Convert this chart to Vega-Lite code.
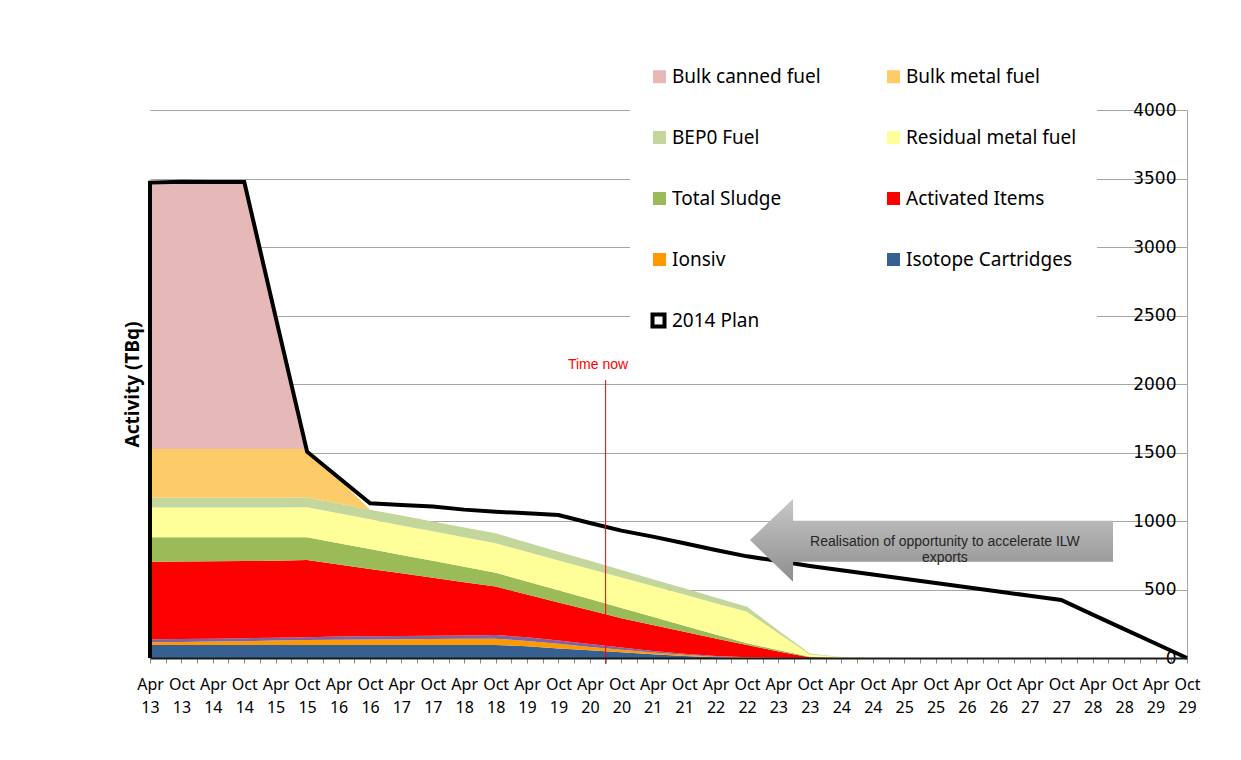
{
  "$schema": "https://vega.github.io/schema/vega-lite/v6.json",
  "width": 1037,
  "height": 548,
  "autosize": {"type": "none"},
  "padding": {"left": 150, "top": 110, "right": 54, "bottom": 102},
  "background": "#ffffff",
  "config": {"view": {"stroke": null}, "font": "Noto Sans"},
  "datasets": {
    "stack": [
      {"date": "2013-04-01", "Isotope Cartridges": 95, "Ionsiv": 20, "Other": 21, "Activated Items": 567, "Total Sludge": 178, "Residual metal fuel": 217, "BEP0 Fuel": 72, "Bulk metal fuel": 355, "Bulk canned fuel": 1952},
      {"date": "2013-10-01", "Isotope Cartridges": 95, "Ionsiv": 22, "Other": 21, "Activated Items": 567, "Total Sludge": 176, "Residual metal fuel": 217, "BEP0 Fuel": 72, "Bulk metal fuel": 355, "Bulk canned fuel": 1952},
      {"date": "2014-04-01", "Isotope Cartridges": 95, "Ionsiv": 25, "Other": 21, "Activated Items": 566, "Total Sludge": 174, "Residual metal fuel": 217, "BEP0 Fuel": 72, "Bulk metal fuel": 355, "Bulk canned fuel": 1952},
      {"date": "2014-10-01", "Isotope Cartridges": 95, "Ionsiv": 28, "Other": 21, "Activated Items": 564, "Total Sludge": 173, "Residual metal fuel": 217, "BEP0 Fuel": 72, "Bulk metal fuel": 355, "Bulk canned fuel": 1952},
      {"date": "2015-04-01", "Isotope Cartridges": 95, "Ionsiv": 32, "Other": 21, "Activated Items": 562, "Total Sludge": 171, "Residual metal fuel": 217, "BEP0 Fuel": 72, "Bulk metal fuel": 355, "Bulk canned fuel": 976},
      {"date": "2015-10-01", "Isotope Cartridges": 95, "Ionsiv": 36, "Other": 21, "Activated Items": 563, "Total Sludge": 166, "Residual metal fuel": 219, "BEP0 Fuel": 72, "Bulk metal fuel": 353, "Bulk canned fuel": 0},
      {"date": "2016-04-01", "Isotope Cartridges": 95, "Ionsiv": 38, "Other": 24, "Activated Items": 526, "Total Sludge": 155, "Residual metal fuel": 218, "BEP0 Fuel": 71, "Bulk metal fuel": 182, "Bulk canned fuel": 0},
      {"date": "2016-10-01", "Isotope Cartridges": 95, "Ionsiv": 40, "Other": 24, "Activated Items": 491, "Total Sludge": 145, "Residual metal fuel": 217, "BEP0 Fuel": 71, "Bulk metal fuel": 0, "Bulk canned fuel": 0},
      {"date": "2017-04-01", "Isotope Cartridges": 95, "Ionsiv": 42, "Other": 24, "Activated Items": 457, "Total Sludge": 134, "Residual metal fuel": 216, "BEP0 Fuel": 72, "Bulk metal fuel": 0, "Bulk canned fuel": 0},
      {"date": "2017-10-01", "Isotope Cartridges": 95, "Ionsiv": 44, "Other": 24, "Activated Items": 423, "Total Sludge": 123, "Residual metal fuel": 216, "BEP0 Fuel": 72, "Bulk metal fuel": 0, "Bulk canned fuel": 0},
      {"date": "2018-04-01", "Isotope Cartridges": 95, "Ionsiv": 45, "Other": 24, "Activated Items": 389, "Total Sludge": 113, "Residual metal fuel": 215, "BEP0 Fuel": 72, "Bulk metal fuel": 0, "Bulk canned fuel": 0},
      {"date": "2018-10-01", "Isotope Cartridges": 95, "Ionsiv": 46, "Other": 27, "Activated Items": 353, "Total Sludge": 102, "Residual metal fuel": 214, "BEP0 Fuel": 73, "Bulk metal fuel": 0, "Bulk canned fuel": 0},
      {"date": "2019-04-01", "Isotope Cartridges": 85, "Ionsiv": 40, "Other": 26, "Activated Items": 312, "Total Sludge": 95, "Residual metal fuel": 217, "BEP0 Fuel": 68, "Bulk metal fuel": 0, "Bulk canned fuel": 0},
      {"date": "2019-10-01", "Isotope Cartridges": 70, "Ionsiv": 34, "Other": 24, "Activated Items": 277, "Total Sludge": 89, "Residual metal fuel": 218, "BEP0 Fuel": 64, "Bulk metal fuel": 0, "Bulk canned fuel": 0},
      {"date": "2020-04-01", "Isotope Cartridges": 56, "Ionsiv": 25, "Other": 21, "Activated Items": 246, "Total Sludge": 82, "Residual metal fuel": 220, "BEP0 Fuel": 59, "Bulk metal fuel": 0, "Bulk canned fuel": 0},
      {"date": "2020-10-01", "Isotope Cartridges": 42, "Ionsiv": 18, "Other": 17, "Activated Items": 213, "Total Sludge": 75, "Residual metal fuel": 222, "BEP0 Fuel": 55, "Bulk metal fuel": 0, "Bulk canned fuel": 0},
      {"date": "2021-04-01", "Isotope Cartridges": 28, "Ionsiv": 12, "Other": 12, "Activated Items": 189, "Total Sludge": 60, "Residual metal fuel": 224, "BEP0 Fuel": 50, "Bulk metal fuel": 0, "Bulk canned fuel": 0},
      {"date": "2021-10-01", "Isotope Cartridges": 15, "Ionsiv": 8, "Other": 8, "Activated Items": 161, "Total Sludge": 44, "Residual metal fuel": 227, "BEP0 Fuel": 46, "Bulk metal fuel": 0, "Bulk canned fuel": 0},
      {"date": "2022-04-01", "Isotope Cartridges": 5, "Ionsiv": 5, "Other": 5, "Activated Items": 128, "Total Sludge": 29, "Residual metal fuel": 228, "BEP0 Fuel": 42, "Bulk metal fuel": 0, "Bulk canned fuel": 0},
      {"date": "2022-10-01", "Isotope Cartridges": 0, "Ionsiv": 3, "Other": 3, "Activated Items": 89, "Total Sludge": 12, "Residual metal fuel": 231, "BEP0 Fuel": 37, "Bulk metal fuel": 0, "Bulk canned fuel": 0},
      {"date": "2023-04-01", "Isotope Cartridges": 0, "Ionsiv": 1, "Other": 1, "Activated Items": 46, "Total Sludge": 10, "Residual metal fuel": 122, "BEP0 Fuel": 20, "Bulk metal fuel": 0, "Bulk canned fuel": 0},
      {"date": "2023-10-01", "Isotope Cartridges": 0, "Ionsiv": 0, "Other": 0, "Activated Items": 5, "Total Sludge": 5, "Residual metal fuel": 15, "BEP0 Fuel": 7, "Bulk metal fuel": 0, "Bulk canned fuel": 0},
      {"date": "2024-04-01", "Isotope Cartridges": 0, "Ionsiv": 0, "Other": 0, "Activated Items": 0, "Total Sludge": 2, "Residual metal fuel": 3, "BEP0 Fuel": 2, "Bulk metal fuel": 0, "Bulk canned fuel": 0},
      {"date": "2024-10-01", "Isotope Cartridges": 0, "Ionsiv": 0, "Other": 0, "Activated Items": 0, "Total Sludge": 0, "Residual metal fuel": 0, "BEP0 Fuel": 0, "Bulk metal fuel": 0, "Bulk canned fuel": 0}
    ],
    "plan": [
      {"date": "2013-04-01", "2014 Plan": 0},
      {"date": "2013-04-01", "2014 Plan": 3470},
      {"date": "2013-10-01", "2014 Plan": 3477},
      {"date": "2014-04-01", "2014 Plan": 3474},
      {"date": "2014-10-01", "2014 Plan": 3474},
      {"date": "2015-04-01", "2014 Plan": 2490},
      {"date": "2015-10-01", "2014 Plan": 1506},
      {"date": "2016-04-01", "2014 Plan": 1318},
      {"date": "2016-10-01", "2014 Plan": 1129},
      {"date": "2017-04-01", "2014 Plan": 1117},
      {"date": "2017-10-01", "2014 Plan": 1105},
      {"date": "2018-04-01", "2014 Plan": 1083},
      {"date": "2018-10-01", "2014 Plan": 1068},
      {"date": "2019-04-01", "2014 Plan": 1056},
      {"date": "2019-10-01", "2014 Plan": 1044},
      {"date": "2020-04-01", "2014 Plan": 985},
      {"date": "2020-10-01", "2014 Plan": 930},
      {"date": "2021-04-01", "2014 Plan": 886},
      {"date": "2021-10-01", "2014 Plan": 838},
      {"date": "2022-04-01", "2014 Plan": 788},
      {"date": "2022-10-01", "2014 Plan": 742},
      {"date": "2023-04-01", "2014 Plan": 708},
      {"date": "2023-10-01", "2014 Plan": 672},
      {"date": "2024-04-01", "2014 Plan": 641},
      {"date": "2024-10-01", "2014 Plan": 610},
      {"date": "2025-04-01", "2014 Plan": 579},
      {"date": "2025-10-01", "2014 Plan": 548},
      {"date": "2026-04-01", "2014 Plan": 517},
      {"date": "2026-10-01", "2014 Plan": 486},
      {"date": "2027-04-01", "2014 Plan": 454},
      {"date": "2027-10-01", "2014 Plan": 423},
      {"date": "2028-04-01", "2014 Plan": 317},
      {"date": "2028-10-01", "2014 Plan": 211},
      {"date": "2029-04-01", "2014 Plan": 106},
      {"date": "2029-10-01", "2014 Plan": 0}
    ],
    "arrow": [
      {"date": "2022-10-18", "lo": 861, "hi": 861},
      {"date": "2023-06-25", "lo": 557, "hi": 1161},
      {"date": "2023-06-26", "lo": 703, "hi": 1002},
      {"date": "2028-07-28", "lo": 703, "hi": 1002}
    ],
    "notes": [
      {"date": "2025-11-24", "value": 847, "label": "Realisation of opportunity to accelerate ILW\nexports"}
    ],
    "timenow": [
      {"date": "2020-07-01", "value": 2030, "value2": -44, "label": "Time now", "labelDate": "2020-05-18", "labelValue": 2139}
    ]
  },
  "encoding": {
    "x": {
      "field": "date",
      "type": "temporal",
      "scale": {
        "type": "utc",
        "domain": [{"year": 2013, "month": 4, "date": 1, "utc": true}, {"year": 2029, "month": 10, "date": 1, "utc": true}],
        "nice": false
      },
      "axis": {
        "title": null,
        "grid": false,
        "tickCount": {"interval": "month", "step": 3},
        "labelExpr": "(utcmonth(datum.value) == 3 || utcmonth(datum.value) == 9) ? [utcFormat(datum.value, '%b'), utcFormat(datum.value, '%y')] : ''",
        "labelOverlap": false,
        "labelFlush": false,
        "labelBound": false,
        "labelAngle": 0,
        "labelFont": "Noto Sans",
        "labelFontSize": 16,
        "labelColor": "#000000",
        "labelLineHeight": 23,
        "labelPadding": 13,
        "labelBaseline": "top",
        "tickColor": "#8c8c8c",
        "tickSize": 5,
        "tickWidth": 1,
        "domainColor": "#1a1a1a",
        "domainWidth": 2,
        "zindex": 1
      }
    }
  },
  "layer": [
    {
      "data": {"name": "stack"},
      "transform": [
        {"fold": ["Isotope Cartridges", "Ionsiv", "Other", "Activated Items", "Total Sludge", "Residual metal fuel", "BEP0 Fuel", "Bulk metal fuel", "Bulk canned fuel"], "as": ["series", "value"]},
        {"window": [{"op": "row_number", "as": "rank"}], "groupby": ["date"]}
      ],
      "mark": {"type": "area", "interpolate": "linear", "opacity": 1},
      "encoding": {
        "y": {
          "field": "value",
          "type": "quantitative",
          "stack": "zero",
          "scale": {"domain": [0, 4000], "nice": false},
          "axis": {
            "orient": "right",
            "title": null,
            "format": "d",
            "values": [0, 500, 1000, 1500, 2000, 2500, 3000, 3500, 4000],
            "grid": true,
            "gridColor": "#a6a6a6",
            "gridWidth": 1,
            "ticks": false,
            "domain": true,
            "domainColor": "#a6a6a6",
            "domainWidth": 1,
            "labelAlign": "right",
            "labelBaseline": "middle",
            "labelPadding": -11,
            "labelFlush": false,
            "labelOverlap": false,
            "labelBound": false,
            "labelFont": "DejaVu Sans",
            "labelFontSize": 17,
            "labelColor": "#000000",
            "zindex": 0
          }
        },
        "color": {
          "field": "series",
          "type": "nominal",
          "scale": {
            "domain": ["Bulk canned fuel", "Bulk metal fuel", "BEP0 Fuel", "Residual metal fuel", "Total Sludge", "Activated Items", "Ionsiv", "Isotope Cartridges", "2014 Plan", "Other"],
            "range": ["#e6b9b8", "#fdcb67", "#c3d69b", "#ffff99", "#9bbb59", "#ff0000", "#ff9900", "#376092", "#ffffff", "#8064a2"]
          },
          "legend": {
            "title": null,
            "orient": "none",
            "legendX": 480,
            "legendY": -63,
            "direction": "vertical",
            "columns": 2,
            "values": ["Bulk canned fuel", "BEP0 Fuel", "Total Sludge", "Ionsiv", "2014 Plan", "Bulk metal fuel", "Residual metal fuel", "Activated Items", "Isotope Cartridges"],
            "symbolType": "square",
            "symbolSize": 169,
            "labelFont": "Noto Sans",
            "labelFontSize": 19,
            "labelColor": "#000000",
            "labelOffset": 3,
            "labelLimit": 400,
            "rowPadding": 41,
            "columnPadding": 63,
            "padding": 20,
            "fillColor": "#ffffff"
          }
        },
        "order": {"field": "rank", "type": "quantitative"}
      }
    },
    {
      "data": {"name": "plan"},
      "transform": [{"fold": ["2014 Plan"], "as": ["series", "value"]}],
      "mark": {"type": "line", "strokeWidth": 4, "strokeJoin": "miter"},
      "encoding": {
        "y": {
          "field": "value",
          "type": "quantitative",
          "axis": {
            "orient": "left",
            "title": "Activity (TBq)",
            "labels": false,
            "ticks": false,
            "domain": false,
            "grid": false,
            "minExtent": 0,
            "maxExtent": 0,
            "titleFont": "Noto Sans",
            "titleFontSize": 19,
            "titleFontWeight": "bold",
            "titleColor": "#000000",
            "titlePadding": 8
          }
        },
        "stroke": {
          "field": "series",
          "type": "nominal",
          "scale": {"domain": ["2014 Plan"], "range": ["#000000"]},
          "legend": {
            "title": null,
            "orient": "none",
            "legendX": 500.5,
            "legendY": 202.5,
            "direction": "vertical",
            "symbolType": "square",
            "symbolSize": 144,
            "symbolStrokeWidth": 4,
            "symbolFillColor": "transparent",
            "labelExpr": "''",
            "labelFontSize": 1,
            "labelOffset": 0,
            "padding": 0
          }
        },
        "order": {"value": null}
      }
    },
    {
      "data": {"name": "arrow"},
      "mark": {
        "type": "area",
        "color": {"gradient": "linear", "x1": 0, "y1": 0, "x2": 0, "y2": 1, "stops": [{"offset": 0, "color": "#c8c8c8"}, {"offset": 1, "color": "#8e8e8e"}]}
      },
      "encoding": {
        "y": {"field": "hi", "type": "quantitative", "axis": null},
        "y2": {"field": "lo"}
      }
    },
    {
      "data": {"name": "notes"},
      "mark": {"type": "text", "font": "Liberation Sans", "fontSize": 14, "lineHeight": 16, "lineBreak": "\n", "align": "center", "baseline": "middle", "color": "#262626"},
      "encoding": {
        "y": {"field": "value", "type": "quantitative", "axis": null},
        "text": {"field": "label"}
      }
    },
    {
      "data": {"name": "timenow"},
      "mark": {"type": "rule", "color": "#ff0000", "strokeWidth": 1},
      "encoding": {
        "y": {"field": "value", "type": "quantitative", "axis": null},
        "y2": {"field": "value2"}
      }
    },
    {
      "data": {"name": "timenow"},
      "mark": {"type": "text", "font": "Liberation Sans", "fontSize": 14, "align": "center", "baseline": "middle", "color": "#ff0000"},
      "encoding": {
        "x": {"field": "labelDate", "type": "temporal"},
        "y": {"field": "labelValue", "type": "quantitative", "axis": null},
        "text": {"field": "label"}
      }
    }
  ],
  "resolve": {"axis": {"y": "independent"}}
}
